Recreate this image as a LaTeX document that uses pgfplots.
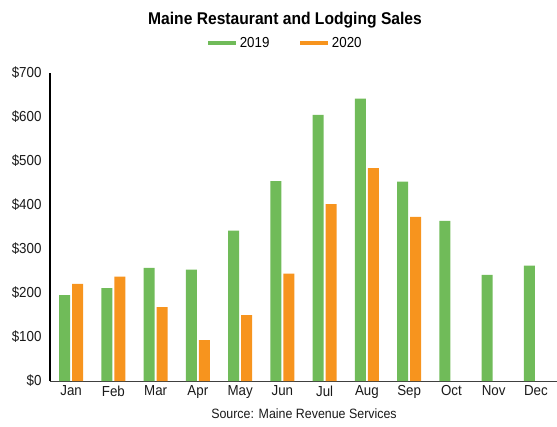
\documentclass[border=0pt]{standalone}
\usepackage{pgfplots}
\pgfplotsset{compat=1.18}
\usepackage{fontspec}
\setmainfont{Liberation Sans}[FakeStretch=0.92]
\definecolor{cGreen}{RGB}{112,187,89}
\definecolor{cOrange}{RGB}{247,148,30}
\begin{document}
\begin{tikzpicture}[x=1pt,y=1pt]
\path[use as bounding box] (0,0) rectangle (557,426);
\begin{axis}[
    at={(50pt,45pt)}, anchor=south west,
    scale only axis,
    width=507pt, height=308pt,
    xmin=-0.5, xmax=11.5,
    ymin=0, ymax=700,
    axis x line=bottom, axis y line=left,
    axis line style={-},
    x axis line style={draw=black!75, line width=1pt},
    y axis line style={draw=black, line width=1.3pt},
    xtick={0,1,2,3,4,5,6,7,8,9,10,11},
    xticklabels={Jan,Feb,Mar,Apr,May,Jun,Jul,Aug,Sep,Oct,Nov,Dec},
    ytick={0,100,200,300,400,500,600,700},
    yticklabels={\$0,\$100,\$200,\$300,\$400,\$500,\$600,\$700},
    major tick length=0pt,
    ticklabel style={font=\fontsize{14.5}{15}\selectfont, text=black!90},
    yticklabel style={xshift=-5pt},
    xticklabel style={yshift=-1pt},
    legend columns=2,
    legend style={draw=none, fill=none, at={(0.4635,1.097)}, anchor=center,
        font=\fontsize{14.5}{15}\selectfont,
        /tikz/every even column/.append style={column sep=27pt}},
    clip=false,
]
\addplot[ybar, fill=cGreen, draw=none, bar width=11pt, bar shift=-6.5pt,
    legend image code/.code={\draw[cGreen, line width=3.5pt] (0pt,0pt) -- (28pt,0pt);}]
    coordinates {(0,195) (1,211) (2,257) (3,253) (4,342) (5,454) (6,605) (7,642) (8,453) (9,364) (10,241) (11,262)};
\addlegendentry{2019}
\addplot[ybar, fill=cOrange, draw=none, bar width=11pt, bar shift=6.5pt,
    legend image code/.code={\draw[cOrange, line width=3.5pt] (0pt,0pt) -- (28pt,0pt);}]
    coordinates {(0,221) (1,237) (2,168) (3,93) (4,150) (5,244) (6,402) (7,484) (8,373)};
\addlegendentry{2020}
\end{axis}
\node[font=\bfseries\fontsize{17}{19}\selectfont] at (285,406) {Maine Restaurant and Lodging Sales};
\node[font=\fontsize{13.5}{15}\selectfont, text=black!90] at (304,12) {Source: Maine Revenue Services};
\end{tikzpicture}
\end{document}
